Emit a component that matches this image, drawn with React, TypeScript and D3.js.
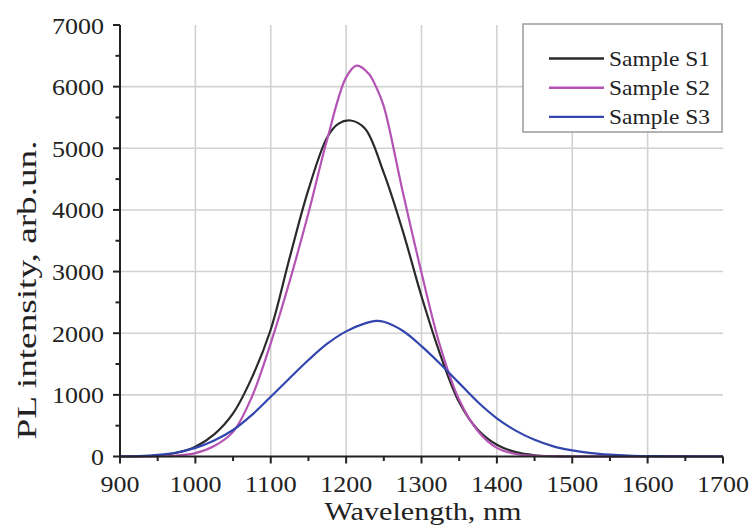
import React from 'react';
import * as d3 from 'd3';

const xTicks = [900, 1000, 1100, 1200, 1300, 1400, 1500, 1600, 1700];
const yTicks = [0, 1000, 2000, 3000, 4000, 5000, 6000, 7000];

const s1Wavelength = [900, 925, 950, 975, 1000, 1025, 1050, 1075, 1100, 1125, 1150, 1175, 1190, 1206, 1225, 1250, 1275, 1300, 1325, 1350, 1375, 1400, 1425, 1450, 1475, 1500, 1550, 1600, 1650, 1700];
const s1Intensity = [0, 3, 15, 60, 160, 360, 700, 1280, 2060, 3220, 4330, 5180, 5400, 5451, 5320, 4600, 3665, 2600, 1650, 880, 430, 190, 70, 20, 5, 0, 0, 0, 0, 0];

const s2Wavelength = [900, 925, 950, 975, 1000, 1025, 1050, 1075, 1100, 1125, 1150, 1175, 1200, 1214, 1230, 1240, 1250, 1275, 1300, 1325, 1350, 1375, 1400, 1425, 1450, 1475, 1500, 1550, 1600, 1650, 1700];
const s2Intensity = [0, 0, 3, 15, 55, 170, 400, 970, 1840, 2840, 3950, 5150, 6150, 6340, 6210, 5990, 5680, 4300, 2980, 1780, 920, 410, 140, 40, 12, 3, 0, 0, 0, 0, 0];

const s3Wavelength = [900, 925, 950, 975, 1000, 1025, 1050, 1075, 1100, 1125, 1150, 1175, 1200, 1225, 1240, 1250, 1275, 1300, 1325, 1350, 1375, 1400, 1425, 1450, 1475, 1500, 1525, 1550, 1575, 1600, 1625, 1650, 1675, 1700];
const s3Intensity = [0, 5, 25, 65, 140, 260, 430, 675, 970, 1270, 1565, 1830, 2030, 2160, 2200, 2185, 2040, 1790, 1500, 1190, 880, 620, 420, 270, 165, 100, 55, 30, 15, 7, 3, 1, 0, 0];

const seriesNames = ['Sample S1', 'Sample S2', 'Sample S3'];
const seriesColors = ['#2a2a2a', '#b453b4', '#3345ae'];

const FONT = 'Liberation Serif, Times New Roman, Times, serif';

export default function App() {
  const W = 753;
  const H = 529;
  const x = d3.scaleLinear().domain([900, 1700]).range([120, 723]);
  const y = d3.scaleLinear().domain([0, 7000]).range([456.5, 25]);

  const series = [
    s1Wavelength.map((w, i) => [w, s1Intensity[i]] as [number, number]),
    s2Wavelength.map((w, i) => [w, s2Intensity[i]] as [number, number]),
    s3Wavelength.map((w, i) => [w, s3Intensity[i]] as [number, number]),
  ];

  const line = d3
    .line<[number, number]>()
    .x((d) => x(d[0]))
    .y((d) => Math.min(y(0), y(d[1])))
    .curve(d3.curveCatmullRom.alpha(0.5));

  const xMinor = d3.range(950, 1700, 100);
  const yMinor = d3.range(500, 7000, 1000);
  const [x0, x1] = x.range();
  const [yb, yt] = y.range();
  const labelWidth = (t: number) => String(t).length * 13;

  return (
    <svg
      width={W}
      height={H}
      style={{ position: 'absolute', left: 0, top: 0, background: '#fff', fontFamily: FONT }}
    >
      <rect x={0} y={0} width={W} height={H} fill="#fff" />
      {xTicks.filter((t) => t > 900 && t < 1700).map((t) => (
        <line key={'gx' + t} x1={x(t)} x2={x(t)} y1={yt} y2={yb} stroke="#d2d2d2" strokeWidth={1.6} />
      ))}
      {yTicks.filter((t) => t > 0 && t < 7000).map((t) => (
        <line key={'gy' + t} x1={x0} x2={x1} y1={y(t)} y2={y(t)} stroke="#d2d2d2" strokeWidth={1.6} />
      ))}

      {series.map((s, i) => (
        <path key={'s' + i} d={line(s) || ''} fill="none" stroke={seriesColors[i]} strokeWidth={2.2} />
      ))}

      <line x1={x0} x2={x1} y1={yb} y2={yb} stroke="#222" strokeWidth={2} />
      <line x1={x0} x2={x0} y1={yt} y2={yb} stroke="#222" strokeWidth={2} />
      {xTicks.map((t) => (
        <line key={'tx' + t} x1={x(t)} x2={x(t)} y1={yb} y2={yb + 7} stroke="#222" strokeWidth={2} />
      ))}
      {xMinor.map((t) => (
        <line key={'mx' + t} x1={x(t)} x2={x(t)} y1={yb} y2={yb + 4.5} stroke="#222" strokeWidth={2} />
      ))}
      {yTicks.map((t) => (
        <line key={'ty' + t} x1={x0 - 7} x2={x0} y1={y(t)} y2={y(t)} stroke="#222" strokeWidth={2} />
      ))}
      {yMinor.map((t) => (
        <line key={'my' + t} x1={x0 - 4.5} x2={x0} y1={y(t)} y2={y(t)} stroke="#222" strokeWidth={2} />
      ))}

      {xTicks.map((t) => (
        <text key={'lx' + t} x={x(t)} y={492} textAnchor="middle" fontSize={24} fill="#222" fontFamily={FONT}
          textLength={labelWidth(t)} lengthAdjust="spacingAndGlyphs">
          {t}
        </text>
      ))}
      {yTicks.map((t) => (
        <text key={'ly' + t} x={104} y={y(t) + 8.5} textAnchor="end" fontSize={24} fill="#222" fontFamily={FONT}
          textLength={labelWidth(t)} lengthAdjust="spacingAndGlyphs">
          {t}
        </text>
      ))}

      <text x={423} y={520} textAnchor="middle" fontSize={26} fill="#222" fontFamily={FONT} textLength={197} lengthAdjust="spacingAndGlyphs">
        Wavelength, nm
      </text>
      <text
        transform={`translate(36, 290) rotate(-90)`}
        textAnchor="middle"
        fontSize={28}
        fill="#222"
        fontFamily={FONT}
        textLength={299}
        lengthAdjust="spacingAndGlyphs"
      >
        PL intensity, arb.un.
      </text>

      <rect x={523} y={24} width={199} height={108} fill="#fff" stroke="#9a9a9a" strokeWidth={1.5} />
      {seriesNames.map((name, i) => (
        <g key={'lg' + i}>
          <line x1={549} x2={604} y1={58.5 + i * 29.2} y2={58.5 + i * 29.2} stroke={seriesColors[i]} strokeWidth={2.4} />
          <text x={609} y={66 + i * 29.2} fontSize={21} fill="#222" fontFamily={FONT} textLength={101} lengthAdjust="spacingAndGlyphs">
            {name}
          </text>
        </g>
      ))}
    </svg>
  );
}
